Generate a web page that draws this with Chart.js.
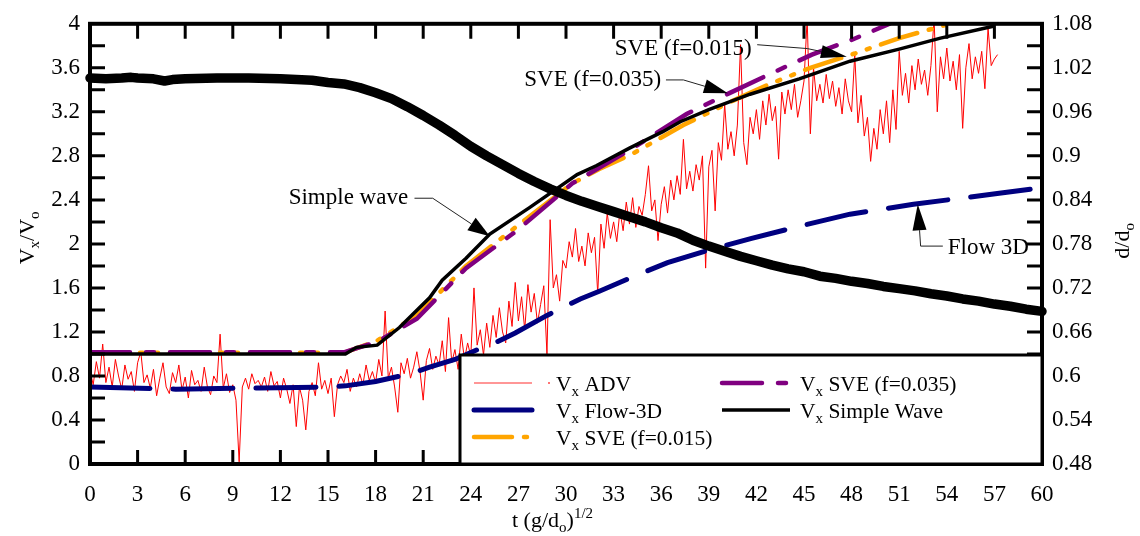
<!DOCTYPE html>
<html>
<head>
<meta charset="utf-8">
<script src="https://cdn.jsdelivr.net/npm/chart.js@4.4.1/dist/chart.umd.min.js"></script>
<style>
  html, body { margin: 0; padding: 0; background: #fff; }
  #wrap { width: 1140px; height: 536px; }
</style>
</head>
<body>
<div id="wrap"><canvas id="velocityChart" width="1140" height="536"></canvas></div>
<script>
// tick values / labels
const xTickValues = [0, 3, 6, 9, 12, 15, 18, 21, 24, 27, 30, 33, 36, 39, 42, 45, 48, 51, 54, 57, 60];
const yTickValues = [0, 0.4, 0.8, 1.2, 1.6, 2, 2.4, 2.8, 3.2, 3.6, 4];
const y2TickValues = [0.48, 0.54, 0.6, 0.66, 0.72, 0.78, 0.84, 0.9, 0.96, 1.02, 1.08];
const yMarks = [0.2, 0.4, 0.6, 0.8, 1, 1.2, 1.4, 1.6, 1.8, 2, 2.2, 2.4, 2.6, 2.8, 3, 3.2, 3.4, 3.6, 3.8];
const y2Marks = [0.51, 0.54, 0.57, 0.6, 0.63, 0.66, 0.69, 0.72, 0.75, 0.78, 0.81, 0.84, 0.87, 0.9, 0.93, 0.96, 0.99, 1.02, 1.05];

// measured depth d/do (right axis)
const depthT = [0, 1, 2, 2.6, 3, 4, 4.7, 5.2, 6, 8, 10, 12, 13, 14, 15, 16, 17, 18, 19, 20, 21, 22, 23, 24, 25, 26, 27, 28, 29, 30,
  31, 32, 33, 34, 35, 36, 37, 38, 39, 40, 41, 42, 43, 44, 45, 46, 47, 48, 49, 50, 51, 52, 53, 54, 55, 56, 57, 58, 59, 60];
const depthV = [1.006, 1.005, 1.006, 1.007, 1.006, 1.005, 1.002, 1.004, 1.005, 1.006, 1.006, 1.005, 1.004, 1.003, 1.0, 0.998,
  0.993, 0.986, 0.978, 0.967, 0.955, 0.942, 0.928, 0.913, 0.900, 0.888, 0.876, 0.865, 0.855, 0.846, 0.838, 0.831, 0.824, 0.817,
  0.810, 0.802, 0.795, 0.785, 0.777, 0.770, 0.763, 0.757, 0.751, 0.746, 0.742, 0.736, 0.733, 0.729, 0.726, 0.722, 0.719, 0.716,
  0.712, 0.709, 0.705, 0.702, 0.698, 0.695, 0.691, 0.688];

// Vx/Vo simple wave
const swT = [0, 16.1, 16.8, 18.1, 19.5, 21.4, 22.2, 23.7, 25.2, 27.7, 30.7, 31.9, 34, 36.1, 37.2, 39, 41.6, 44.7, 47.9, 51, 53.6, 57];
const swV = [1.0, 1.0, 1.06, 1.08, 1.24, 1.51, 1.67, 1.87, 2.09, 2.33, 2.63, 2.71, 2.87, 3.02, 3.11, 3.22, 3.36, 3.50, 3.66, 3.77, 3.87, 3.98];

// SVE f=0.035
const sve35T = [0, 16, 18.1, 20.6, 23.7, 26.9, 30.4, 34.2, 37.6, 40.3, 42.8, 45.5, 48.1, 50.4];
const sve35V = [1.015, 1.015, 1.11, 1.32, 1.78, 2.12, 2.55, 2.87, 3.18, 3.37, 3.54, 3.72, 3.86, 4.0];

// SVE f=0.015
const sve15T = [0, 16, 18.1, 20.6, 23.7, 26.9, 30.4, 32.1, 34.2, 37.4, 40.5, 42.8, 45.4, 48.2, 51, 54.2];
const sve15V = [1.01, 1.01, 1.12, 1.35, 1.80, 2.16, 2.55, 2.68, 2.82, 3.08, 3.30, 3.45, 3.60, 3.73, 3.87, 4.0];

// Flow-3D
const flowT = [0, 4.2, 5.4, 9.5, 10.7, 14.9, 16.1, 18, 20.2, 21.4, 23, 24.6, 25.5, 26.8, 28.8, 30.9, 32.1, 34.2, 36.4, 38.9,
  41.7, 44.7, 47.9, 51.9, 57.3, 60];
const flowV = [0.70, 0.685, 0.68, 0.69, 0.69, 0.70, 0.71, 0.75, 0.82, 0.88, 0.95, 1.05, 1.10, 1.19, 1.35, 1.50, 1.57, 1.70, 1.83,
  1.94, 2.05, 2.16, 2.27, 2.36, 2.46, 2.51];

// ADV record, one value every 0.2 time units starting at t=0
const advStep = 0.2;
const advV = [
  0.85, 0.72, 0.93, 0.78, 1.09, 0.74, 0.88, 0.70, 0.95, 0.80,
  0.68, 0.90, 0.77, 0.84, 0.66, 0.92, 1.02, 0.74, 0.81, 0.69,
  0.86, 0.62, 0.78, 0.92, 0.70, 0.64, 0.83, 0.74, 0.90, 0.67,
  0.79, 0.60, 0.85, 0.72, 0.76, 0.66, 0.88, 0.70, 0.63, 0.80,
  0.74, 1.18, 0.69, 0.82, 0.65, 0.72, 0.58, 0.02, 0.70, 0.78,
  0.68, 0.82, 0.73, 0.76, 0.70, 0.79, 0.66, 0.84, 0.71, 0.75,
  0.60, 0.78, 0.68, 0.55, 0.72, 0.34, 0.70, 0.58, 0.31, 0.66,
  0.74, 0.62, 0.92, 0.68, 0.76, 0.64, 0.78, 0.43, 0.72, 0.80,
  0.74, 0.86, 0.66, 0.78, 0.70, 0.82, 0.72, 0.90, 0.76, 0.84,
  0.74, 0.95, 0.80, 1.39, 0.78, 0.88, 0.70, 0.47, 0.92, 0.82,
  0.96, 0.78, 0.88, 1.02, 0.84, 0.58, 0.94, 1.05, 0.86, 0.98,
  0.90, 1.12, 0.84, 1.33, 0.92, 1.04, 0.86, 1.18, 0.95, 1.10,
  0.98, 1.60, 1.08, 1.22, 0.99, 1.28, 1.06, 1.35, 1.15, 1.42,
  1.20, 1.10, 1.48, 1.25, 1.65, 1.30, 1.52, 1.22, 1.63, 1.38,
  1.55, 1.28, 1.45, 1.62, 1.00, 2.22, 1.60, 1.72, 1.48, 1.85,
  1.78, 2.02, 1.88, 2.14, 1.84, 1.98, 1.80, 2.10, 1.92, 2.06,
  1.55, 2.18, 1.96, 2.28, 2.05, 2.20, 2.02, 2.30, 2.12, 2.38,
  2.18, 2.42, 2.15, 2.34, 2.26, 2.45, 2.71, 2.30, 2.40, 2.03,
  2.36, 2.52, 2.28, 2.58, 2.40, 2.62, 2.45, 2.95, 2.50, 2.66,
  2.48, 2.72, 2.58, 2.80, 1.78, 2.70, 2.85, 2.30, 2.92, 2.76,
  3.27, 2.86, 3.02, 2.80, 3.08, 3.81, 2.92, 2.72, 3.15, 3.00,
  3.22, 2.95, 3.30, 3.08, 3.36, 3.12, 3.25, 2.77, 3.38, 3.18,
  3.40, 3.22, 3.45, 3.15, 3.30, 3.48, 4.05, 3.00, 3.60, 3.30,
  3.45, 3.28, 3.54, 3.32, 3.48, 3.25, 3.42, 3.18, 3.50, 3.30,
  3.20, 3.72, 3.10, 3.35, 2.98, 3.15, 2.75, 3.05, 2.86, 3.22,
  3.00, 3.30, 2.92, 3.40, 3.04, 3.75, 3.35, 3.55, 3.28, 3.62,
  3.40, 3.68, 3.45, 3.58, 3.35, 3.62, 4.05, 3.20, 3.70, 3.50,
  3.78, 3.48, 3.66, 3.40, 3.72, 3.05, 3.60, 3.82, 3.50, 3.70,
  3.55, 3.75, 3.41, 3.96, 3.62, 3.68, 3.72
];

// callout labels on the plot (data coordinates)
const callouts = [
  { text: 'Simple wave', at: [20.05, 2.415], align: 'right', path: [[20.45, 2.415], [21.6, 2.415], [25.2, 2.07]], head: [22, 15] },
  { text: 'SVE (f=0.035)', at: [36.0, 3.49], align: 'right', path: [[36.3, 3.49], [37.4, 3.49], [40.2, 3.37]], head: [24, 14] },
  { text: 'SVE (f=0.015)', at: [41.7, 3.775], align: 'right', path: [[42.05, 3.81], [45.2, 3.775], [47.7, 3.70]], head: [26, 13] },
  { text: 'Flow 3D', at: [54.06, 1.964], align: 'left', path: [[53.75, 1.98], [52.35, 1.98], [52.17, 2.36]], head: [26, 14] },
];

const serif = '"Liberation Serif", "Times New Roman", serif';
const pairs = (ts, vs) => ts.map((t, i) => ({ x: t, y: vs[i] }));
const advT = advV.map((_, i) => +(i * advStep).toFixed(2));

// text with sub/superscripts: parts = [[text, 'n'|'sub'|'sup'], ...]
function richWidth(ctx, parts, size) {
  let w = 0;
  parts.forEach(([txt, kind]) => {
    ctx.font = `${kind === 'n' ? size : Math.round(size * 0.68)}px ${serif}`;
    w += ctx.measureText(txt).width;
  });
  return w;
}
function drawRich(ctx, parts, x, baseline, size) {
  let cx = x;
  ctx.textAlign = 'left';
  ctx.textBaseline = 'alphabetic';
  parts.forEach(([txt, kind]) => {
    const s = kind === 'n' ? size : Math.round(size * 0.68);
    const dy = kind === 'sub' ? size * 0.24 : kind === 'sup' ? -size * 0.42 : 0;
    ctx.font = `${s}px ${serif}`;
    ctx.fillText(txt, cx, baseline + dy);
    cx += ctx.measureText(txt).width;
  });
}

function drawArrow(ctx, pts, len, width) {
  const n = pts.length;
  const [tx, ty] = pts[n - 1];
  const [px, py] = pts[n - 2];
  const ang = Math.atan2(ty - py, tx - px);
  const bx = tx - len * Math.cos(ang), by = ty - len * Math.sin(ang);
  ctx.beginPath();
  ctx.moveTo(pts[0][0], pts[0][1]);
  for (let i = 1; i < n - 1; i++) ctx.lineTo(pts[i][0], pts[i][1]);
  ctx.lineTo(bx, by);
  ctx.stroke();
  ctx.beginPath();
  ctx.moveTo(tx, ty);
  ctx.lineTo(bx + width / 2 * Math.sin(ang), by - width / 2 * Math.cos(ang));
  ctx.lineTo(bx - width / 2 * Math.sin(ang), by + width / 2 * Math.cos(ang));
  ctx.closePath();
  ctx.fill();
}

const figureExtras = {
  id: 'figureExtras',
  afterDatasetsDraw(chart) {
    const { ctx, chartArea: area } = chart;
    const { x, y, y2 } = chart.scales;
    ctx.save();

    // inward tick marks and frame
    ctx.strokeStyle = '#000';
    ctx.lineWidth = 3;
    ctx.beginPath();
    xTickValues.slice(1, -1).forEach(v => {
      const px = x.getPixelForValue(v);
      ctx.moveTo(px, area.top); ctx.lineTo(px, area.top + 15);
      ctx.moveTo(px, area.bottom); ctx.lineTo(px, area.bottom - 14);
    });
    yMarks.forEach(v => {
      const py = y.getPixelForValue(v);
      ctx.moveTo(area.left, py); ctx.lineTo(area.left + 15, py);
    });
    y2Marks.forEach(v => {
      const py = y2.getPixelForValue(v);
      ctx.moveTo(area.right, py); ctx.lineTo(area.right - 15, py);
    });
    ctx.stroke();
    ctx.lineWidth = 4;
    ctx.strokeRect(area.left, area.top, area.right - area.left, area.bottom - area.top);

    // callouts
    ctx.fillStyle = '#000';
    ctx.strokeStyle = '#222';
    ctx.lineWidth = 1;
    ctx.font = `23px ${serif}`;
    callouts.forEach(c => {
      ctx.textAlign = c.align;
      ctx.textBaseline = 'middle';
      ctx.fillText(c.text, x.getPixelForValue(c.at[0]), y.getPixelForValue(c.at[1]));
      const pts = c.path.map(([t, v]) => [x.getPixelForValue(t), y.getPixelForValue(v)]);
      drawArrow(ctx, pts, c.head[0], c.head[1]);
    });

    // legend box
    const box = { left: area.left + 370, top: area.bottom - 109, right: area.right, bottom: area.bottom };
    ctx.fillStyle = '#fff';
    ctx.fillRect(box.left, box.top, box.right - box.left, box.bottom - box.top);
    ctx.strokeStyle = '#000';
    ctx.lineWidth = 3;
    ctx.strokeRect(box.left, box.top, box.right - box.left, box.bottom - box.top);

    const ds = chart.data.datasets;
    const entries = [
      { i: 5, col: 0, row: 0, parts: [['V', 'n'], ['x', 'sub'], [' ADV', 'n']] },
      { i: 4, col: 0, row: 1, parts: [['V', 'n'], ['x', 'sub'], [' Flow-3D', 'n']] },
      { i: 3, col: 0, row: 2, parts: [['V', 'n'], ['x', 'sub'], [' SVE (f=0.015)', 'n']] },
      { i: 2, col: 1, row: 0, parts: [['V', 'n'], ['x', 'sub'], [' SVE (f=0.035)', 'n']] },
      { i: 1, col: 1, row: 1, parts: [['V', 'n'], ['x', 'sub'], [' Simple Wave', 'n']] },
    ];
    const cols = [{ s0: 14, s1: 72, tx: 96 }, { s0: 262, s1: 330, tx: 340 }];
    entries.forEach(e => {
      const d = ds[e.i];
      const c = cols[e.col];
      const ly = box.top + 28 + e.row * 27;
      ctx.save();
      if (e.i === 5) {
        ctx.strokeStyle = 'rgba(255,0,0,0.55)';
        ctx.lineWidth = 1.5;
        ctx.fillStyle = 'rgba(255,0,0,0.55)';
        ctx.fillRect(box.left + c.s1 + 16, ly - 1, 2, 2);
      } else {
        ctx.strokeStyle = d.borderColor;
        ctx.lineWidth = d.borderWidth;
        ctx.setLineDash(d.borderDash || []);
        ctx.lineCap = d.borderDash ? 'round' : 'butt';
      }
      ctx.beginPath();
      ctx.moveTo(box.left + c.s0, ly);
      ctx.lineTo(box.left + c.s1, ly);
      ctx.stroke();
      ctx.restore();
      ctx.fillStyle = '#000';
      drawRich(ctx, e.parts, box.left + c.tx, ly + 8, 21.5);
    });

    ctx.restore();
  },
  afterDraw(chart) {
    const { ctx, chartArea: area } = chart;
    ctx.save();
    ctx.fillStyle = '#000';
    // left title
    const lp = [['V', 'n'], ['x', 'sub'], ['/V', 'n'], ['o', 'sub']];
    let w = richWidth(ctx, lp, 22);
    ctx.save();
    ctx.translate(27, (area.top + area.bottom) / 2 - 6);
    ctx.rotate(-Math.PI / 2);
    drawRich(ctx, lp, -w / 2, 7, 22);
    ctx.restore();
    // right title
    const rp = [['d/d', 'n'], ['o', 'sub']];
    w = richWidth(ctx, rp, 22);
    ctx.save();
    ctx.translate(1122, (area.top + area.bottom) / 2 - 3);
    ctx.rotate(-Math.PI / 2);
    drawRich(ctx, rp, -w / 2, 7, 22);
    ctx.restore();
    // bottom title
    const bp = [['t (g/d', 'n'], ['o', 'sub'], [')', 'n'], ['1/2', 'sup']];
    drawRich(ctx, bp, 512, 527, 22);
    ctx.restore();
  }
};

const tickFont = { family: serif, size: 23 };

new Chart(document.getElementById('velocityChart'), {
  type: 'line',
  data: {
    datasets: [
      { label: 'd/do', data: pairs(depthT, depthV), yAxisID: 'y2', borderColor: '#000', borderWidth: 9.5,
        borderCapStyle: 'round', borderJoinStyle: 'round', order: 0, clip: 8 },
      { label: 'Vx Simple Wave', data: pairs(swT, swV), yAxisID: 'y', borderColor: '#000', borderWidth: 3.5, order: 1 },
      { label: 'Vx SVE (f=0.035)', data: pairs(sve35T, sve35V), yAxisID: 'y', borderColor: '#800080', borderWidth: 4.5,
        borderDash: [40, 16, 8, 16], borderCapStyle: 'round', order: 2 },
      { label: 'Vx SVE (f=0.015)', data: pairs(sve15T, sve15V), yAxisID: 'y', borderColor: '#ffa500', borderWidth: 4.5,
        borderDash: [38, 12, 3, 12, 3, 12], borderCapStyle: 'round', order: 3 },
      { label: 'Vx Flow-3D', data: pairs(flowT, flowV), yAxisID: 'y', borderColor: '#000080', borderWidth: 5,
        borderDash: [60, 23], borderCapStyle: 'round', order: 4 },
      { label: 'Vx ADV', data: pairs(advT, advV), yAxisID: 'y', borderColor: '#ff0000', borderWidth: 1, order: 5 },
    ]
  },
  options: {
    responsive: false,
    animation: false,
    devicePixelRatio: 1,
    layout: { padding: { top: 22, left: 0, right: 0, bottom: 0 } },
    elements: { point: { radius: 0 }, line: { tension: 0 } },
    plugins: { legend: { display: false }, tooltip: { enabled: false } },
    scales: {
      x: {
        type: 'linear', position: 'bottom', min: 0, max: 60,
        afterBuildTicks: s => { s.ticks = xTickValues.map(v => ({ value: v })); },
        afterFit: s => { s.height = 72; },
        grid: { display: false, drawTicks: false },
        border: { display: false },
        ticks: { font: tickFont, color: '#000', padding: 17, maxRotation: 0, autoSkip: false, callback: v => String(v) }
      },
      y: {
        type: 'linear', position: 'left', min: 0, max: 4,
        afterBuildTicks: s => { s.ticks = yTickValues.map(v => ({ value: v })); },
        afterFit: s => { s.width = 90; },
        grid: { display: false, drawTicks: false },
        border: { display: false },
        ticks: { font: tickFont, color: '#000', padding: 10, autoSkip: false, callback: v => String(v) }
      },
      y2: {
        type: 'linear', position: 'right', min: 0.48, max: 1.08,
        afterBuildTicks: s => { s.ticks = y2TickValues.map(v => ({ value: v })); },
        afterFit: s => { s.width = 98; },
        grid: { display: false, drawTicks: false },
        border: { display: false },
        ticks: { font: tickFont, color: '#000', padding: 10, autoSkip: false, callback: v => String(v) }
      }
    }
  },
  plugins: [figureExtras]
});
</script>
</body>
</html>
